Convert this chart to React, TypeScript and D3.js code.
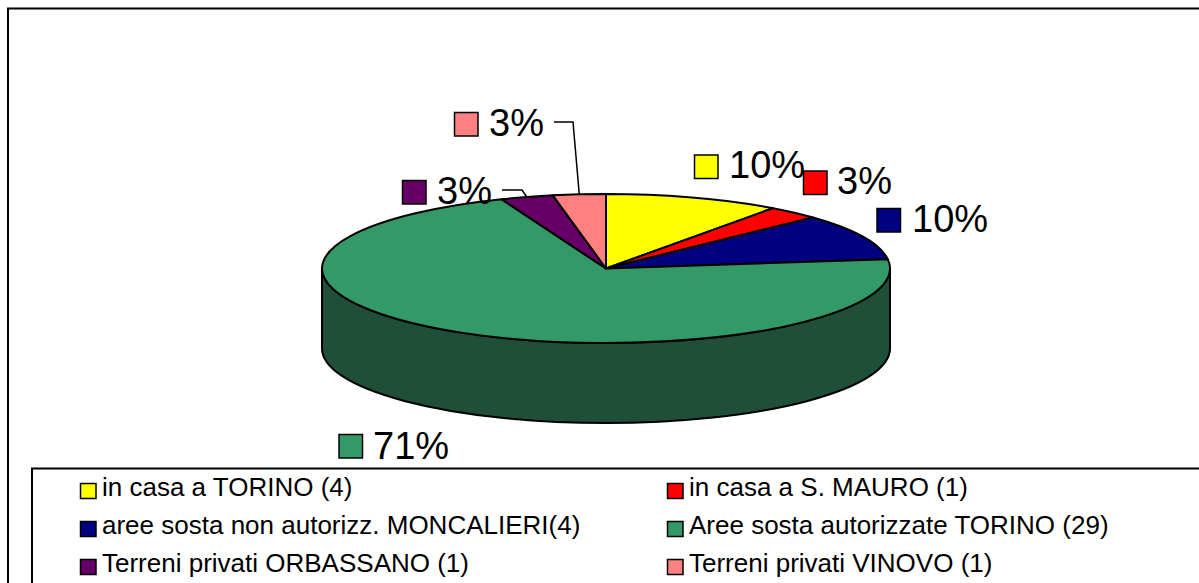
import React from "react";
import * as d3 from "d3";

const categories = [
  "in casa a TORINO (4)",
  "in casa a S. MAURO (1)",
  "aree sosta non autorizz. MONCALIERI(4)",
  "Aree sosta autorizzate TORINO (29)",
  "Terreni privati ORBASSANO (1)",
  "Terreni privati VINOVO (1)",
];
const percents = [10, 3, 10, 71, 3, 3];
const colors = ["#FFFF00", "#FF0000", "#000080", "#339966", "#660066", "#FF8080"];

const W = 1199, H = 583;
const FONT = "'Liberation Sans', Arial, sans-serif";
const cx = 606, cy = 268.5, rx = 284, ry = 74.5, depth = 80;
const sideColor = "#1F4F38";

// label placement: swatch left/top, text left/baseline
const labelPos: [number, number, number, number][] = [
  [694.5, 155, 729, 178],
  [803.5, 171, 837, 194],
  [877, 208.5, 912, 232],
  [339, 434.5, 373, 459],
  [402.5, 180.5, 437, 204],
  [454.5, 112.5, 489, 136],
];
const legendPos: [number, number][] = [
  [80.5, 483.5], [667.5, 483.5], [80.5, 521.5], [667.5, 521.5], [80.5, 559.5], [667.5, 559.5],
];

export default function App() {
  const pie = d3.pie<number>().sort(null)(percents);
  const arc = d3.arc<d3.PieArcDatum<number>>().innerRadius(0).outerRadius(rx);
  const side =
    `M${cx - rx},${cy} L${cx - rx},${cy + depth} ` +
    `A${rx},${ry} 0 0 0 ${cx + rx},${cy + depth} L${cx + rx},${cy} ` +
    `A${rx},${ry} 0 0 1 ${cx - rx},${cy} Z`;

  // leader lines from the label to the rim of its slice
  const rimPoint = (i: number): [number, number] => {
    const a = (pie[i].startAngle + pie[i].endAngle) / 2;
    return [cx + rx * Math.sin(a), cy - ry * Math.cos(a)];
  };
  const line = d3.line();
  const pinkRim = rimPoint(5);
  const purpleRim = rimPoint(4);

  return (
    <svg width={W} height={H} viewBox={`0 0 ${W} ${H}`}
      style={{ position: "absolute", left: 0, top: 0, background: "#fff" }}>
      <rect x={8} y={8.5} width={W + 20} height={H + 20} fill="#fff" stroke="#000" strokeWidth={2} />

      <path d={side} fill={sideColor} stroke="#000" strokeWidth={2} />
      <g transform={`translate(${cx},${cy}) scale(1,${ry / rx})`}>
        {pie.map((d, i) => (
          <path key={i} d={arc(d) ?? ""} fill={colors[i]} stroke="#000" strokeWidth={2}
            strokeLinejoin="round" style={{ vectorEffect: "non-scaling-stroke" }} />
        ))}
      </g>

      <path d={line([[554, 122], [573, 122], [pinkRim[0], pinkRim[1]]]) ?? ""} fill="none" stroke="#000" strokeWidth={1.5} />
      <path d={line([[502, 190], [522, 190], [purpleRim[0], purpleRim[1]]]) ?? ""} fill="none" stroke="#000" strokeWidth={1.5} />

      {percents.map((p, i) => {
        const [sx, sy, tx, ty] = labelPos[i];
        return (
          <g key={i}>
            <text x={tx} y={ty} fontFamily={FONT} fontSize={38} fill="#000">{`${p}%`}</text>
            <rect x={sx} y={sy} width={23.5} height={23.5} fill={colors[i]} stroke="#000" strokeWidth={1.5} />
          </g>
        );
      })}

      <rect x={32} y={468.5} width={W + 20} height={H} fill="#fff" stroke="#000" strokeWidth={2} />
      {categories.map((t, i) => {
        const [lx, ly] = legendPos[i];
        return (
          <g key={i}>
            <rect x={lx} y={ly} width={15.5} height={15} fill={colors[i]} stroke="#000" strokeWidth={1.5} />
            <text x={lx + 21.5} y={ly + 12.5} fontFamily={FONT} fontSize={26} fill="#000">{t}</text>
          </g>
        );
      })}
    </svg>
  );
}
